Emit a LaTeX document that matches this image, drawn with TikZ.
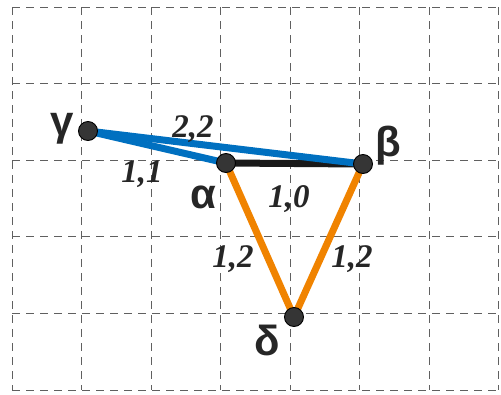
\documentclass[tikz,border=0pt]{standalone}
\usepackage{fontspec}
\setmainfont{Liberation Sans}
\newfontfamily\numfont{Liberation Serif}
\definecolor{edgeblue}{HTML}{0070C0}
\definecolor{edgeorange}{HTML}{F08300}
\definecolor{dotfill}{HTML}{353535}
\definecolor{gridgray}{HTML}{606060}
\pgfdeclarelayer{gridlayer}
\pgfdeclarelayer{edgelayer}
\pgfsetlayers{gridlayer,edgelayer,main}
\tikzset{
  vertex/.style={circle,fill=dotfill,draw=black,line width=0.9pt,minimum size=19pt,inner sep=0pt},
  vlabel/.style={font=\bfseries\fontsize{42}{42}\selectfont,text=black!85,inner sep=0pt,anchor=base},
  wlabel/.style={font=\numfont\bfseries\itshape\fontsize{33}{33}\selectfont,text=black!85,inner sep=0pt,anchor=base},
  gridline/.style={draw=gridgray,line width=1pt,dash pattern=on 8pt off 6pt},
  blueedge/.style={draw=edgeblue,line width=7pt},
  orangeedge/.style={draw=edgeorange,line width=7pt},
  blackedge/.style={draw=black!90,line width=7pt}
}
\begin{document}
\begin{tikzpicture}[x=1pt,y=-1pt]
\useasboundingbox (0,0) rectangle (501,394);
\begin{pgfonlayer}{gridlayer}
\foreach \k in {0,...,7} {
  \path[gridline] ({12+69.5*\k},7) -- ({12+69.5*\k},390);
}
\foreach \k in {0,...,5} {
  \path[gridline] (12,{7+76.6*\k}) -- (498.5,{7+76.6*\k});
}
\end{pgfonlayer}
\node[vertex] (g) at (88,131) {};
\node[vertex] (a) at (226,163) {};
\node[vertex] (b) at (363,164) {};
\node[vertex] (d) at (294,317) {};
\begin{pgfonlayer}{edgelayer}
\path[blackedge] (a.center) -- (b.center);
\path[blueedge] (g.center) -- (a.center);
\path[blueedge] (g.center) -- (b.center);
\path[orangeedge] (a.center) -- (d.center);
\path[orangeedge] (b.center) -- (d.center);
\end{pgfonlayer}
\node[vlabel] (lg) at (62,135) {γ};
\node[vlabel] (la) at (203,208) {α};
\node[vlabel] (lb) at (388,156) {β};
\node[vlabel] (ld) at (267,355) {δ};
\node[wlabel] (w22) at (193,137) {2,2};
\node[wlabel] (w11) at (142,182) {1,1};
\node[wlabel] (w10) at (289,207) {1,0};
\node[wlabel] (w12l) at (233,267) {1,2};
\node[wlabel] (w12r) at (352,267) {1,2};
\end{tikzpicture}
\end{document}
